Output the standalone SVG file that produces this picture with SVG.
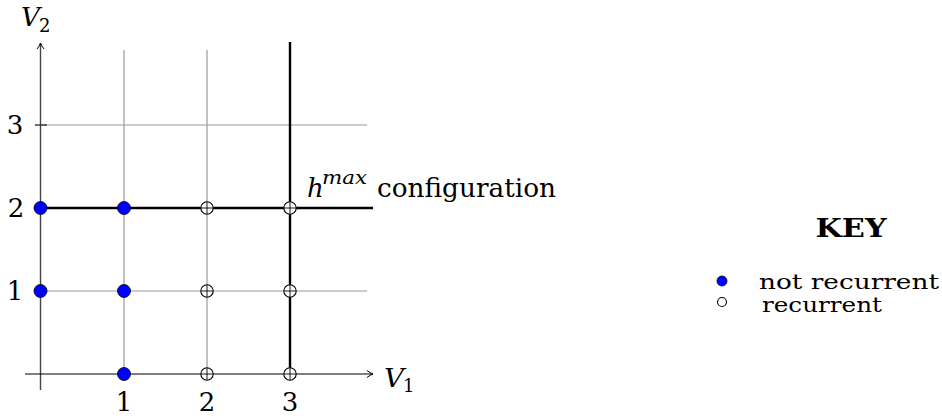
<svg xmlns="http://www.w3.org/2000/svg" width="942" height="419" viewBox="0 0 942 419">
<style>
text{font-family:"DejaVu Serif","Liberation Serif",serif;fill:#000;font-size:26px}
.it{font-style:italic}
.sub{font-size:18px}
.kt{font-size:21px}
.grid{stroke:#999;stroke-width:1.2;fill:none}
.axis{stroke:#000;stroke-width:1.2;fill:none}
.thick{stroke:#000;stroke-width:2.4;fill:none}
.nr{fill:#0000ff;stroke:#000;stroke-width:0.8}
.rc{fill:#fff;stroke:#000;stroke-width:1.1}
.cr{stroke:#000;stroke-width:0.9;fill:none}
.tick{stroke:#333;stroke-width:1.4}
</style>
<defs>
<marker id="arr" markerWidth="10" markerHeight="10" refX="7" refY="5" orient="auto" markerUnits="userSpaceOnUse">
<path d="M1,1.5 Q4,4 7,5 Q4,6 1,8.5" fill="none" stroke="#000" stroke-width="1"/>
</marker>
</defs>
<g id="connectors">
<line class="grid" x1="124" y1="50" x2="124" y2="374"/>
<line class="grid" x1="207" y1="50" x2="207" y2="374"/>
<line class="grid" x1="40" y1="125" x2="367" y2="125"/>
<line class="grid" x1="40" y1="291" x2="367" y2="291"/>
<line x1="40.5" y1="390" x2="40.5" y2="43" stroke="#444" stroke-width="1.4" marker-end="url(#arr)"/>
<line class="axis" x1="25" y1="374" x2="373" y2="374" marker-end="url(#arr)"/>
<line class="tick" x1="35" y1="125" x2="47" y2="125"/>
<line class="thick" x1="290" y1="42" x2="290" y2="374"/>
<line class="thick" x1="40" y1="208" x2="373" y2="208"/>
</g>
<g id="labels">
<text x="21" y="26" class="it" textLength="19" lengthAdjust="spacingAndGlyphs">V</text><text x="39" y="32" class="sub">2</text>
<text x="384" y="387" class="it" textLength="20" lengthAdjust="spacingAndGlyphs">V</text><text x="403" y="392" class="sub">1</text>
<text x="15" y="134" text-anchor="middle">3</text>
<text x="16" y="217" text-anchor="middle">2</text>
<text x="15" y="300" text-anchor="middle">1</text>
<text x="124" y="411" text-anchor="middle">1</text>
<text x="207" y="411" text-anchor="middle">2</text>
<text x="290" y="411" text-anchor="middle">3</text>
<text x="307" y="197" class="it">h</text><text x="322" y="184" class="it sub" textLength="45" lengthAdjust="spacingAndGlyphs">max</text>
<text x="377" y="197" textLength="179" lengthAdjust="spacingAndGlyphs">configuration</text>
</g>
<g id="nodes">
<g id="n-0-2"><circle class="nr" cx="40.5" cy="208" r="6.5"/></g>
<g id="n-1-2"><circle class="nr" cx="124" cy="208" r="6.5"/></g>
<g id="n-0-1"><circle class="nr" cx="40.5" cy="291" r="6.5"/></g>
<g id="n-1-1"><circle class="nr" cx="124" cy="291" r="6.5"/></g>
<g id="n-1-0"><circle class="nr" cx="124" cy="374" r="6.5"/></g>
<g id="n-2-2"><circle class="rc" cx="207" cy="208" r="6.2"/><path class="cr" d="M201,208H213M207,202V214"/></g>
<g id="n-3-2"><circle class="rc" cx="290" cy="208" r="6.2"/><path class="cr" d="M284,208H296M290,202V214"/></g>
<g id="n-2-1"><circle class="rc" cx="207" cy="291" r="6.2"/><path class="cr" d="M201,291H213M207,285V297"/></g>
<g id="n-3-1"><circle class="rc" cx="290" cy="291" r="6.2"/><path class="cr" d="M284,291H296M290,285V297"/></g>
<g id="n-2-0"><circle class="rc" cx="207" cy="374" r="6.2"/><path class="cr" d="M201,374H213M207,368V380"/></g>
<g id="n-3-0"><circle class="rc" cx="290" cy="374" r="6.2"/><path class="cr" d="M284,374H296M290,368V380"/></g>
</g>
<g id="key">
<text x="851" y="237" text-anchor="middle" font-weight="bold" textLength="71" lengthAdjust="spacingAndGlyphs">KEY</text>
<circle class="nr" cx="722" cy="281" r="5"/>
<text x="759" y="289" class="kt" textLength="180" lengthAdjust="spacingAndGlyphs">not recurrent</text>
<circle class="rc" cx="722" cy="302" r="4.5"/>
<text x="762" y="312" class="kt" textLength="120" lengthAdjust="spacingAndGlyphs">recurrent</text>
</g>
</svg>
